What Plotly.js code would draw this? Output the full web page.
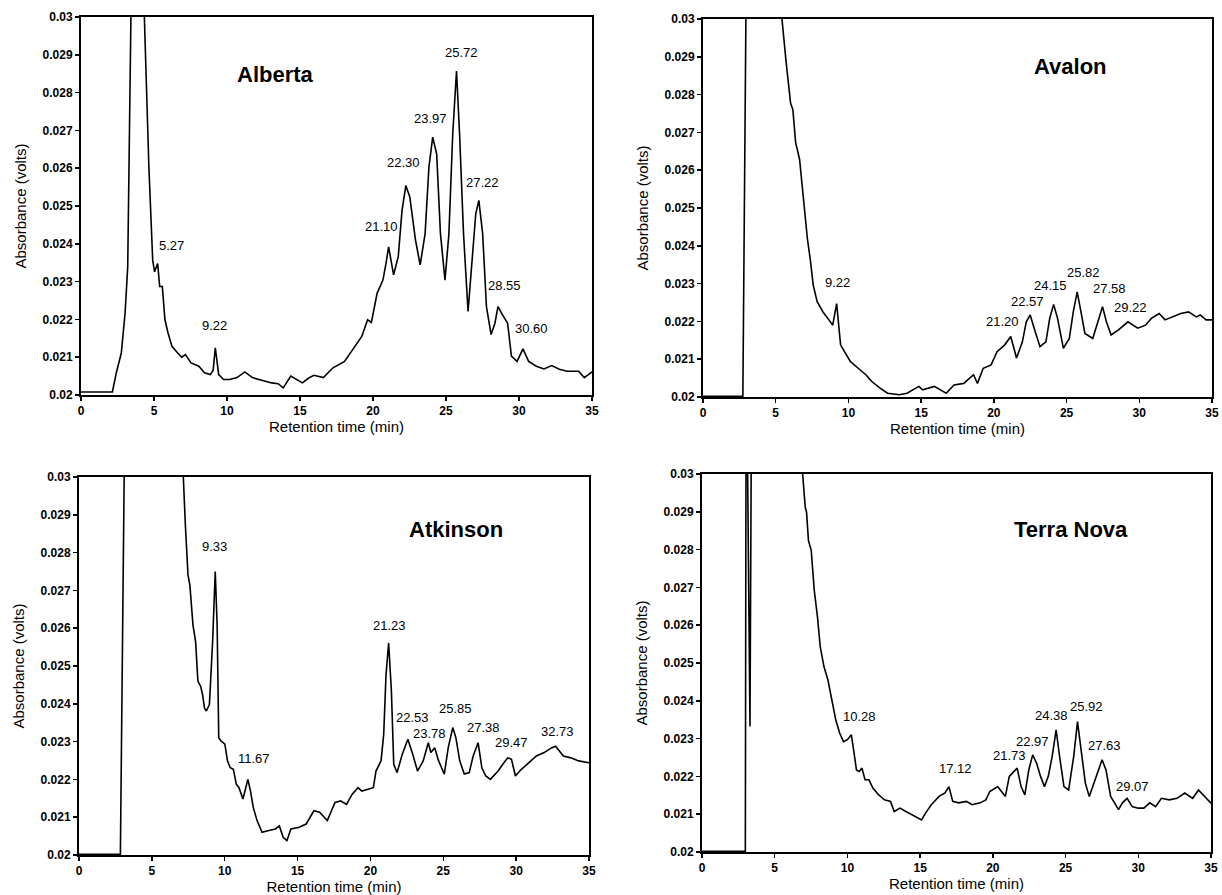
<!DOCTYPE html>
<html>
<head>
<meta charset="utf-8">
<script src="https://cdn.plot.ly/plotly-3.0.1.min.js"></script>
<style>
html,body{margin:0;padding:0;background:#fff;}
#chart{width:1222px;height:895px;}
</style>
</head>
<body>
<div id="chart"></div>
<script>
// ---------------- data ----------------
const panelNames = ["Alberta", "Avalon", "Atkinson", "Terra Nova"];

const albertaTime = [0,2.15,2.42,2.76,3.02,3.2,3.42,3.9,4.34,4.65,4.91,5.04,5.25,5.39,5.57,5.75,5.96,6.23,6.62,6.9,7.15,7.54,8.07,8.46,8.85,9.05,9.2,9.43,9.77,10.17,10.69,11.22,11.74,12.53,13.06,13.5,13.85,14.37,14.8,15.16,15.6,15.95,16.6,17.26,18.05,18.58,19.23,19.63,19.89,20.28,20.68,20.89,21.07,21.41,21.73,21.99,22.25,22.52,22.91,23.23,23.57,23.83,24.09,24.36,24.62,24.93,25.2,25.46,25.72,25.93,26.2,26.51,26.77,27.04,27.25,27.51,27.77,28.09,28.35,28.56,28.87,29.22,29.48,29.87,30.27,30.66,31.19,31.71,32.24,32.76,33.29,34.08,34.47,35];
const albertaAbs = [0.02008,0.02008,0.02059,0.02111,0.02217,0.02339,0.0300,0.0400,0.0300,0.02603,0.02357,0.02326,0.02348,0.02287,0.02287,0.02199,0.02164,0.02129,0.02111,0.02100,0.02107,0.02085,0.02076,0.02059,0.02054,0.02065,0.02125,0.02054,0.02041,0.02041,0.02046,0.02061,0.02046,0.02037,0.02032,0.02030,0.02019,0.0205,0.0204,0.02032,0.02045,0.02052,0.02046,0.02072,0.02089,0.0212,0.02155,0.02199,0.02192,0.02269,0.02304,0.02348,0.02392,0.02318,0.02366,0.02489,0.02554,0.02524,0.0241,0.02344,0.02427,0.02603,0.02682,0.02638,0.02427,0.02304,0.02427,0.0269,0.02857,0.0269,0.02427,0.02221,0.02339,0.0248,0.02515,0.02427,0.02234,0.0216,0.0219,0.02234,0.02212,0.0219,0.02103,0.02089,0.02122,0.02089,0.02076,0.02069,0.02078,0.02068,0.02063,0.02063,0.02046,0.02061];

const avalonTime = [0,2.74,2.95,3.1,5.3,5.43,5.7,6.02,6.18,6.37,6.64,6.91,7.18,7.37,7.58,7.85,8.25,8.66,8.92,9.19,9.46,9.73,10.13,10.67,11.2,11.61,12.15,12.69,13.49,14.03,14.84,15.1,15.91,16.72,17.26,17.93,18.6,18.87,19.27,19.81,20.22,20.75,21.16,21.56,21.96,22.23,22.5,22.77,23.17,23.58,23.84,24.11,24.38,24.78,25.19,25.46,25.73,25.99,26.26,26.8,27.2,27.47,27.74,28.06,28.55,29.22,29.89,30.43,30.83,31.37,31.77,32.31,32.85,33.39,33.92,34.19,34.6,35];
const avalonAbs = [0.02002,0.02002,0.0300,0.0400,0.0400,0.0300,0.02892,0.02778,0.0276,0.02673,0.02629,0.02524,0.02418,0.02366,0.02296,0.02252,0.02225,0.02204,0.0219,0.02247,0.02138,0.0212,0.02094,0.02076,0.02059,0.02041,0.02024,0.0201,0.02006,0.0201,0.02028,0.02019,0.02028,0.0201,0.02032,0.02036,0.02059,0.02036,0.02076,0.02085,0.0212,0.02138,0.0216,0.02103,0.02146,0.02199,0.02217,0.02182,0.02133,0.02146,0.02208,0.02245,0.02208,0.02129,0.02155,0.02225,0.02278,0.02225,0.02168,0.02155,0.02208,0.02239,0.02199,0.02164,0.02177,0.02199,0.02182,0.0219,0.02208,0.02221,0.02204,0.02212,0.02221,0.02225,0.02212,0.02217,0.02204,0.02204];

const atkinsonTime = [0,2.84,3.1,3.3,7.0,7.16,7.3,7.48,7.61,7.82,8.0,8.16,8.35,8.48,8.61,8.74,8.95,9.17,9.35,9.48,9.59,9.74,10.01,10.19,10.38,10.59,10.8,10.98,11.25,11.59,11.77,11.96,12.22,12.56,12.96,13.48,13.75,14.01,14.27,14.54,15.06,15.59,16.12,16.51,17.04,17.57,17.96,18.36,18.75,19.15,19.41,19.81,20.2,20.38,20.73,20.91,21.07,21.25,21.44,21.6,21.83,22.18,22.57,22.91,23.23,23.62,23.97,24.15,24.41,24.68,25.07,25.34,25.65,25.86,26.13,26.44,26.78,27.05,27.39,27.65,27.92,28.23,28.76,29.16,29.42,29.68,29.95,30.34,30.87,31.39,31.92,32.45,32.71,33.24,33.76,34.29,35];
const atkinsonAbs = [0.02002,0.02002,0.0300,0.0400,0.0400,0.0300,0.02873,0.02741,0.02714,0.02609,0.02565,0.0246,0.02446,0.02424,0.02389,0.02381,0.02398,0.02565,0.0275,0.02609,0.0231,0.02302,0.02293,0.02249,0.02231,0.02227,0.02187,0.02178,0.02148,0.022,0.02169,0.02126,0.02091,0.0206,0.02064,0.02069,0.02077,0.02047,0.02038,0.02069,0.02073,0.02082,0.02117,0.02113,0.02091,0.02139,0.02143,0.02134,0.02161,0.02178,0.02169,0.02174,0.02178,0.02222,0.02249,0.02319,0.02477,0.02561,0.02433,0.0224,0.02218,0.02266,0.02306,0.02266,0.02222,0.02249,0.02297,0.02271,0.02284,0.02249,0.02214,0.02284,0.02337,0.02311,0.02249,0.02214,0.02218,0.02262,0.02297,0.0223,0.02209,0.022,0.02222,0.02244,0.02257,0.02253,0.02209,0.02226,0.02244,0.02262,0.02271,0.02284,0.02288,0.02262,0.02257,0.02249,0.02244];

const terraNovaTime = [0,2.98,3.04,3.12,3.3,3.38,3.45,6.8,6.92,7.1,7.19,7.32,7.51,7.72,7.94,8.13,8.39,8.66,8.93,9.2,9.47,9.73,10.0,10.27,10.46,10.62,10.81,11.0,11.21,11.48,11.75,12.15,12.55,12.96,13.22,13.62,14.02,14.43,14.7,15.1,15.37,15.77,16.3,16.71,16.98,17.24,17.65,18.18,18.58,19.12,19.52,19.79,20.33,20.86,21.13,21.67,21.94,22.2,22.47,22.74,23.01,23.28,23.55,23.81,24.08,24.35,24.62,24.89,25.21,25.56,25.82,26.09,26.36,26.63,27.03,27.51,27.78,28.1,28.37,28.64,28.91,29.23,29.58,29.98,30.38,30.79,31.19,31.59,32.13,32.66,33.2,33.74,34.14,34.54,35];
const terraNovaAbs = [0.02002,0.02002,0.0340,0.0300,0.02332,0.0300,0.0340,0.0340,0.0300,0.02912,0.02899,0.02824,0.02798,0.02692,0.02622,0.02543,0.0249,0.02455,0.02402,0.02349,0.02314,0.02292,0.02297,0.0231,0.02261,0.02217,0.02213,0.02222,0.02191,0.02191,0.02169,0.02151,0.02138,0.02134,0.02107,0.02116,0.02107,0.02099,0.02094,0.02085,0.02103,0.02125,0.02147,0.02156,0.02173,0.02134,0.0213,0.02134,0.02125,0.0213,0.02138,0.0216,0.02173,0.02147,0.022,0.02222,0.02173,0.02151,0.02217,0.02257,0.02235,0.022,0.02173,0.022,0.02253,0.02323,0.02244,0.02173,0.02164,0.02253,0.02345,0.0227,0.02182,0.02147,0.02191,0.02244,0.02217,0.02147,0.0213,0.02112,0.0213,0.02142,0.0212,0.02116,0.02116,0.0213,0.0212,0.02142,0.02138,0.02142,0.02156,0.02142,0.02164,0.02147,0.02129];

// peak labels (retention times printed on the chart)
const albertaPeaks = ["5.27","9.22","21.10","22.30","23.97","25.72","27.22","28.55","30.60"];
const avalonPeaks = ["9.22","21.20","22.57","24.15","25.82","27.58","29.22"];
const atkinsonPeaks = ["9.33","11.67","21.23","22.53","23.78","25.85","27.38","29.47","32.73"];
const terraNovaPeaks = ["10.28","17.12","21.73","22.97","24.38","25.92","27.63","29.07"];

// tick labels
const xTickVals = [0,5,10,15,20,25,30,35];
const yTickVals = [0.02,0.021,0.022,0.023,0.024,0.025,0.026,0.027,0.028,0.029,0.03];
const yTickText = ["0.02","0.021","0.022","0.023","0.024","0.025","0.026","0.027","0.028","0.029","0.03"];

// ---------------- placement of the texts (data coordinates) ----------------
const albertaLabelX = [6.23,9.17,20.55,22.12,23.96,26.06,27.51,29.03,30.87];
const albertaLabelY = [0.02395,0.02183,0.02445,0.02614,0.02732,0.02905,0.02563,0.0229,0.02175];
const avalonLabelX = [9.27,20.62,22.31,23.92,26.13,27.93,29.41];
const avalonLabelY = [0.02303,0.02199,0.02252,0.02296,0.02329,0.02287,0.02236];
const atkinsonLabelX = [9.27,12.04,21.33,22.91,24.07,25.86,27.76,29.68,32.84];
const atkinsonLabelY = [0.02815,0.02255,0.02606,0.02363,0.02322,0.02387,0.02338,0.02297,0.02328];
const terraNovaLabelX = [10.81,17.43,21.13,22.74,24.03,26.44,27.7,29.58];
const terraNovaLabelY = [0.02358,0.02222,0.02254,0.02292,0.02362,0.02384,0.02283,0.02173];
const nameX = [13.32,25.27,25.86,25.37];
const nameY = [0.02848,0.02875,0.0286,0.02852];

// ---------------- build ----------------
const FONT = "Liberation Sans, Arial, Helvetica, sans-serif";
const series = [
  {t: albertaTime, a: albertaAbs, peaks: albertaPeaks, lx: albertaLabelX, ly: albertaLabelY},
  {t: avalonTime, a: avalonAbs, peaks: avalonPeaks, lx: avalonLabelX, ly: avalonLabelY},
  {t: atkinsonTime, a: atkinsonAbs, peaks: atkinsonPeaks, lx: atkinsonLabelX, ly: atkinsonLabelY},
  {t: terraNovaTime, a: terraNovaAbs, peaks: terraNovaPeaks, lx: terraNovaLabelX, ly: terraNovaLabelY}
];

// panel frames in page pixels: [left, right, top, bottom]
const W = 1222, H = 895;
const frames = [[81,592,17,395],[703,1212,19,397],[79,589,477,855],[702,1211,474,852]];

const traces = [];
const annotations = [];
const layout = {
  width: W, height: H,
  margin: {l:0, r:0, t:0, b:0},
  paper_bgcolor: '#fff', plot_bgcolor: '#fff',
  showlegend: false,
  font: {family: FONT, color: '#000'}
};

series.forEach((s, i) => {
  const n = i === 0 ? '' : String(i + 1);
  const f = frames[i];
  traces.push({
    type: 'scatter', mode: 'lines',
    x: s.t, y: s.a,
    xaxis: 'x' + n, yaxis: 'y' + n,
    line: {color: '#000', width: 1.6},
    hoverinfo: 'skip'
  });
  const common = {
    showline: true, linecolor: '#000', linewidth: 2, mirror: true,
    ticks: 'outside', ticklen: 4, tickwidth: 1.5, tickcolor: '#000',
    showgrid: false, zeroline: false, fixedrange: true,
    tickfont: {family: FONT, size: 12, color: '#000', weight: 'bold'}
  };
  layout['xaxis' + n] = Object.assign({}, common, {
    domain: [f[0] / W, f[1] / W],
    anchor: 'y' + n,
    range: [0, 35],
    tickvals: xTickVals,
    ticktext: xTickVals.map(String),
    title: {text: 'Retention time (min)', font: {family: FONT, size: 15, color: '#000'}, standoff: 4}
  });
  layout['yaxis' + n] = Object.assign({}, common, {
    domain: [1 - f[3] / H, 1 - f[2] / H],
    anchor: 'x' + n,
    range: [0.02, 0.03],
    tickvals: yTickVals,
    ticktext: yTickText,
    title: {text: 'Absorbance (volts)', font: {family: FONT, size: 15, color: '#000'}, standoff: 12}
  });
  s.peaks.forEach((p, k) => {
    annotations.push({
      xref: 'x' + n, yref: 'y' + n,
      x: s.lx[k], y: s.ly[k],
      text: p, showarrow: false,
      xanchor: 'center', yanchor: 'middle',
      font: {family: FONT, size: 13, color: '#000'}
    });
  });
  annotations.push({
    xref: 'x' + n, yref: 'y' + n,
    x: nameX[i], y: nameY[i],
    text: '<b>' + panelNames[i] + '</b>', showarrow: false,
    xanchor: 'center', yanchor: 'middle',
    font: {family: FONT, size: 22, color: '#000'}
  });
});
layout.annotations = annotations;

Plotly.newPlot('chart', traces, layout, {displayModeBar: false, staticPlot: true});
</script>
</body>
</html>
